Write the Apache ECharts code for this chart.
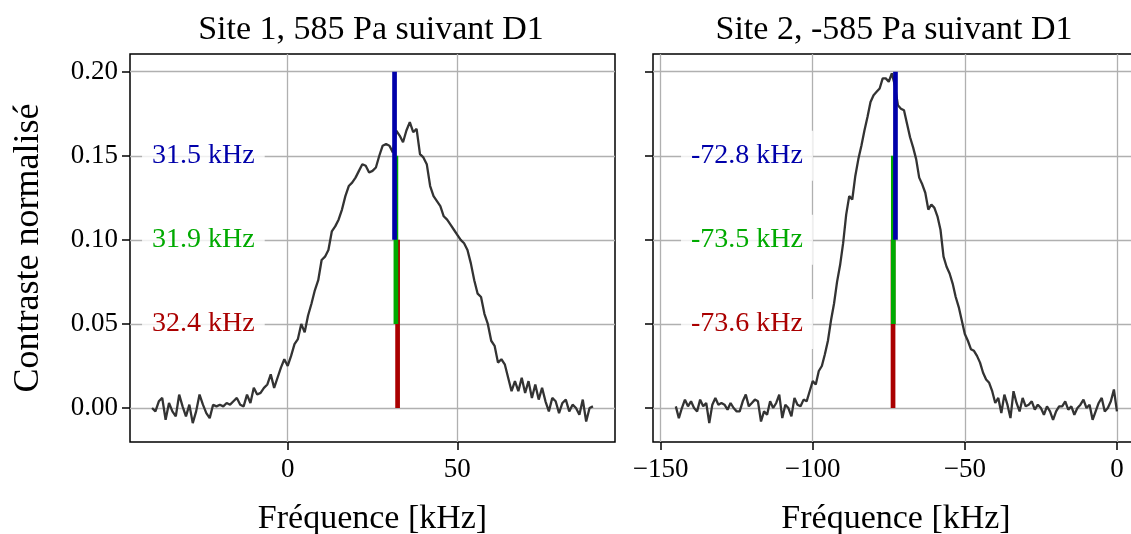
<!DOCTYPE html>
<html>
<head>
<meta charset="utf-8">
<script src="https://cdn.jsdelivr.net/npm/echarts@6/dist/echarts.min.js"></script>
<style>html,body{margin:0;padding:0;background:#fff}#c{width:1131px;height:534px}</style>
</head>
<body>
<div id="c"></div>
<script>
// ---- data ----
const site1Freq = [-40,-39,-38,-37,-36,-35,-34,-33,-32,-31,-30,-29,-28,-27,-26,-25,-24,-23,-22,-21,-20,-19,-18,-17,-16,-15,-14,-13,-12,-11,-10,-9,-8,-7,-6,-5,-4,-3,-2,-1,0,1,2,3,4,5,6,7,8,9,10,11,12,13,14,15,16,17,18,19,20,21,22,23,24,25,26,27,28,29,30,31,32,33,34,35,36,37,38,39,40,41,42,43,44,45,46,47,48,49,50,51,52,53,54,55,56,57,58,59,60,61,62,63,64,65,66,67,68,69,70,71,72,73,74,75,76,77,78,79,80,81,82,83,84,85,86,87,88,89,90];
const site1Contrast = [
0.000,-0.002,0.004,0.006,-0.007,0.003,-0.002,-0.005,0.008,0.001,
-0.005,0.002,-0.009,-0.002,0.008,0.002,-0.003,-0.006,0.002,0.001,
0.002,0.001,0.003,0.002,0.004,0.006,0.002,0.001,0.008,0.003,
0.012,0.008,0.009,0.012,0.014,0.020,0.012,0.018,0.024,0.029,
0.025,0.031,0.038,0.041,0.050,0.045,0.055,0.062,0.070,0.076,
0.088,0.090,0.094,0.105,0.108,0.112,0.118,0.126,0.132,0.134,
0.137,0.141,0.145,0.144,0.140,0.141,0.143,0.150,0.156,0.157,
0.156,0.152,0.165,0.162,0.158,0.165,0.170,0.164,0.166,0.151,
0.149,0.145,0.132,0.126,0.123,0.120,0.114,0.112,0.109,0.106,
0.103,0.100,0.098,0.094,0.086,0.076,0.068,0.066,0.056,0.050,
0.040,0.037,0.027,0.029,0.026,0.018,0.010,0.016,0.010,0.018,
0.009,0.016,0.006,0.014,0.005,0.012,0.004,-0.002,0.006,0.004,
-0.003,0.003,0.005,-0.002,0.002,0.000,-0.004,0.005,-0.008,0.000,
0.001];
const site2Freq = [-145,-144,-143,-142,-141,-140,-139,-138,-137,-136,-135,-134,-133,-132,-131,-130,-129,-128,-127,-126,-125,-124,-123,-122,-121,-120,-119,-118,-117,-116,-115,-114,-113,-112,-111,-110,-109,-108,-107,-106,-105,-104,-103,-102,-101,-100,-99,-98,-97,-96,-95,-94,-93,-92,-91,-90,-89,-88,-87,-86,-85,-84,-83,-82,-81,-80,-79,-78,-77,-76,-75,-74,-73,-72,-71,-70,-69,-68,-67,-66,-65,-64,-63,-62,-61,-60,-59,-58,-57,-56,-55,-54,-53,-52,-51,-50,-49,-48,-47,-46,-45,-44,-43,-42,-41,-40,-39,-38,-37,-36,-35,-34,-33,-32,-31,-30,-29,-28,-27,-26,-25,-24,-23,-22,-21,-20,-19,-18,-17,-16,-15,-14,-13,-12,-11,-10,-9,-8,-7,-6,-5,-4,-3,-2,-1,0];
const site2Contrast = [
0.001,-0.006,0.000,0.005,0.001,0.004,0.000,-0.002,0.005,0.001,
0.003,-0.009,0.002,0.006,0.002,0.003,0.002,-0.001,0.003,0.000,
-0.002,-0.002,0.004,0.008,0.001,0.003,0.005,0.004,-0.008,-0.002,
-0.004,0.004,0.000,0.003,0.008,-0.006,0.002,0.000,-0.005,0.006,
0.002,0.001,0.005,0.004,0.010,0.016,0.014,0.022,0.025,0.032,
0.040,0.052,0.062,0.075,0.085,0.098,0.115,0.126,0.124,0.138,
0.148,0.156,0.165,0.173,0.182,0.186,0.188,0.190,0.196,0.196,
0.194,0.199,0.192,0.180,0.178,0.177,0.169,0.161,0.155,0.148,
0.137,0.133,0.128,0.118,0.121,0.119,0.114,0.106,0.090,0.084,
0.080,0.074,0.066,0.060,0.052,0.044,0.040,0.035,0.034,0.031,
0.027,0.021,0.017,0.015,0.010,0.003,0.006,-0.003,0.008,0.002,
-0.006,0.010,0.003,-0.002,0.006,0.001,0.002,0.004,-0.001,0.002,
0.000,-0.004,0.001,-0.002,-0.007,-0.002,0.001,0.001,0.004,-0.001,
0.001,-0.004,0.000,0.002,0.005,0.000,0.002,-0.007,-0.002,0.003,
0.006,-0.002,0.000,0.004,0.011,-0.002];

// peak markers (order: blue, green, red)
const site1Peaks = [31.5, 31.9, 32.4];
const site2Peaks = [-72.8, -73.5, -73.6];
const site1PeakLabels = ['31.5 kHz', '31.9 kHz', '32.4 kHz'];
const site2PeakLabels = ['-72.8 kHz', '-73.5 kHz', '-73.6 kHz'];
const segmentLow = [0.10, 0.05, 0.00];
const segmentHigh = [0.20, 0.15, 0.10];
const labelLevel = [0.15, 0.10, 0.05];
const site1LabelX = -40;
const site2LabelX = -140;

const titles = ['Site 1, 585 Pa suivant D1', 'Site 2, -585 Pa suivant D1'];
const xAxisTitle = 'Fréquence [kHz]';
const yAxisTitle = 'Contraste normalisé';
const yTicks = [0, 0.05, 0.10, 0.15, 0.20];
const x1Ticks = [0, 50];
const x2Ticks = [-150, -100, -50, 0];

// ---- styles ----
const peakColors = ['#0000aa', '#00aa00', '#aa0000'];
const FONT = '"Liberation Serif", "DejaVu Serif", serif';
const gridColor = '#b0b0b0';

function zip(a, b) { return a.map((v, i) => [v, b[i]]); }
function minus(v) { return String(v).replace('-', '\u2212'); }

const chart = echarts.init(document.getElementById('c'), null, { renderer: 'canvas' });

function axisCommon(ticks) {
  return {
    type: 'value',
    axisLine: { show: false, onZero: false },
    axisTick: { show: true, inside: false, length: 8, customValues: ticks, lineStyle: { color: '#000', width: 1.5 } },
    splitLine: { show: true, lineStyle: { color: gridColor, width: 1.3 } },
    axisLabel: { customValues: ticks, color: '#000', fontFamily: FONT, fontSize: 27 },
  };
}

const nameStyle = { fontFamily: FONT, fontSize: 34, color: '#000' };
const xAxes = [
  Object.assign(axisCommon(x1Ticks), {
    gridIndex: 0, min: -46.5, max: 96.5, minInterval: 50, maxInterval: 50,
    name: xAxisTitle, nameLocation: 'middle', nameGap: 60, nameTextStyle: nameStyle,
  }),
  Object.assign(axisCommon(x2Ticks), {
    gridIndex: 1, min: -152.5, max: 7.25, minInterval: 50, maxInterval: 50,
    name: xAxisTitle, nameLocation: 'middle', nameGap: 60, nameTextStyle: nameStyle,
  }),
];
xAxes.forEach(a => { a.axisLabel.margin = 14; a.axisLabel.formatter = v => minus(v); });

const yAxes = [
  Object.assign(axisCommon(yTicks), {
    gridIndex: 0, min: -0.0202, max: 0.2105, minInterval: 0.05, maxInterval: 0.05,
    name: yAxisTitle, nameLocation: 'middle', nameGap: 83,
    nameTextStyle: { fontFamily: FONT, fontSize: 36, color: '#000' },
  }),
  Object.assign(axisCommon(yTicks), {
    gridIndex: 1, min: -0.0202, max: 0.2105, minInterval: 0.05, maxInterval: 0.05,
  }),
];
yAxes[0].axisLabel.formatter = v => v.toFixed(2);
yAxes[0].axisLabel.margin = 12;
yAxes[1].axisLabel.show = false;

const series = [];
function addPanel(idx, freq, vals, peaks, labels, labelX) {
  series.push({
    type: 'line', xAxisIndex: idx, yAxisIndex: idx, data: zip(freq, vals),
    showSymbol: false, symbol: 'none', lineStyle: { color: '#333333', width: 2.3 }, z: 2, silent: true,
  });
  // draw red, green, blue (blue on top)
  for (let k = peaks.length - 1; k >= 0; k--) {
    series.push({
      type: 'line', xAxisIndex: idx, yAxisIndex: idx,
      data: [[peaks[k], segmentLow[k]], [peaks[k], segmentHigh[k]]],
      showSymbol: false, symbol: 'none', lineStyle: { color: peakColors[k], width: 4.7, cap: 'butt' }, z: 3, silent: true,
    });
  }
  series.push({
    type: 'scatter', xAxisIndex: idx, yAxisIndex: idx, symbolSize: 0, z: 4, silent: true,
    itemStyle: { opacity: 1 },
    data: labels.map((t, k) => ({
      value: [labelX, labelLevel[k]],
      label: {
        show: true, position: 'right', distance: 0, offset: [-10, 0], formatter: t,
        color: peakColors[k], fontFamily: FONT, fontSize: 28, opacity: 1,
        backgroundColor: 'rgba(255,255,255,0.8)', padding: [12, 10, 10, 10],
      },
    })),
  });
}
addPanel(0, site1Freq, site1Contrast, site1Peaks, site1PeakLabels, site1LabelX);
addPanel(1, site2Freq, site2Contrast, site2Peaks, site2PeakLabels, site2LabelX);

const titleStyle = { fontFamily: FONT, fontSize: 34, fontWeight: 'normal', color: '#000' };
chart.setOption({
  animation: false,
  backgroundColor: '#fff',
  title: [
    { text: titles[0], left: 366, top: 8, textAlign: 'center', textStyle: titleStyle },
    { text: titles[1], left: 889, top: 8, textAlign: 'center', textStyle: titleStyle },
  ],
  grid: [
    { left: 130, top: 54, width: 485, height: 388, show: true, borderColor: '#000', borderWidth: 1.5, backgroundColor: 'transparent', outerBoundsMode: 'none', containLabel: false },
    { left: 653, top: 54, width: 486, height: 388, show: true, borderColor: '#000', borderWidth: 1.5, backgroundColor: 'transparent', outerBoundsMode: 'none', containLabel: false },
  ],
  xAxis: xAxes,
  yAxis: yAxes,
  series: series,
});
</script>
</body>
</html>
